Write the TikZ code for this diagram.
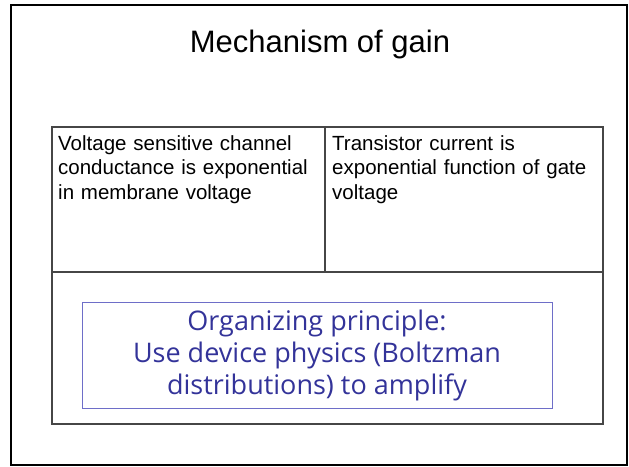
\documentclass[tikz,border=0pt]{standalone}
\usepackage{fontspec}
\setmainfont{Liberation Sans}
\newfontfamily\comicfont{Open Sans}
\usepackage{tikz}
\usetikzlibrary{positioning,calc}
\definecolor{principleBlue}{RGB}{51,51,153}
\definecolor{principleEdge}{RGB}{110,110,200}
\definecolor{gridGray}{RGB}{70,70,70}

\begin{document}
\begin{tikzpicture}[
        x=1pt, y=-1pt,
        celltext/.style={anchor=base west, inner sep=0pt, align=left, text width=265pt,
          font=\fontsize{20.5}{24.5}\selectfont},
        principle/.style={draw=principleEdge, line width=1pt, text=principleBlue,
          minimum width=470pt, minimum height=106pt, align=center,
          font=\comicfont\fontsize{27}{32}\selectfont}
      ]
        \useasboundingbox (0,0) rectangle (629,466);
        % slide frame
        \draw[line width=2pt] (11,5) rectangle (627,465);
        \node[anchor=base, inner sep=0pt, font=\fontsize{31}{37}\selectfont] (title) at (320,52) {Mechanism of gain};
        % table
        \draw[gridGray, line width=1.2pt] (52,127) rectangle (603,424);
        \draw[gridGray, line width=1.2pt] (325,127) -- (325,272);
        \draw[gridGray, line width=1.2pt] (52,272) -- (603,272);
        \node[celltext] (channel) at (58,150) {Voltage sensitive channel\\conductance is exponential\\in membrane voltage};
        \node[celltext] (transistor) at (332,150) {Transistor current is\\exponential function of gate\\voltage};
        \node[principle] (organize) at (317,355) {Organizing principle:\\Use device physics (Boltzman\\distributions) to amplify};
      \end{tikzpicture}
\end{document}
